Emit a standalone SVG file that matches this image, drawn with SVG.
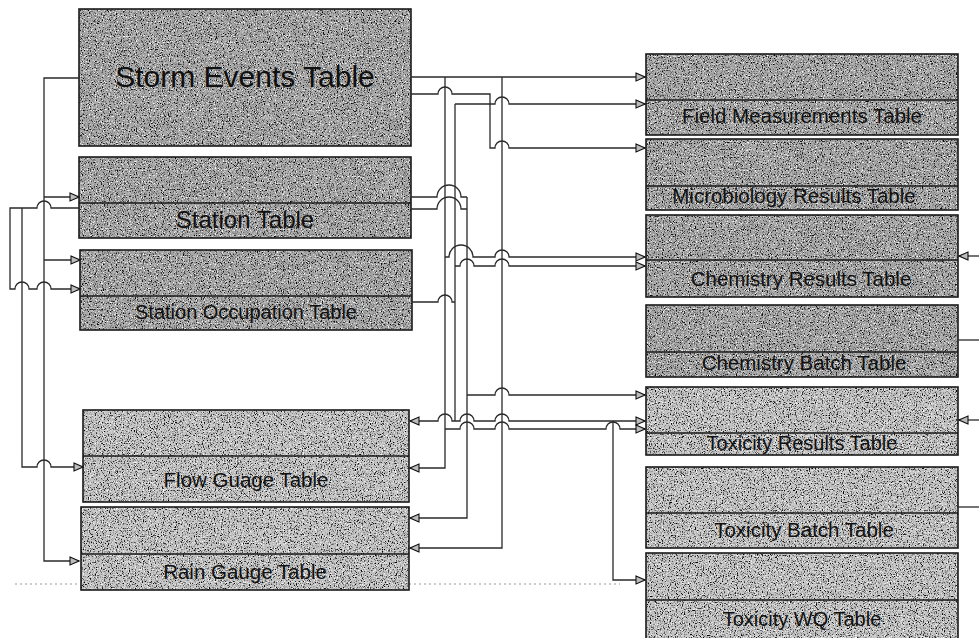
<svg xmlns="http://www.w3.org/2000/svg" width="979" height="638" viewBox="0 0 979 638">
<style>
  .bg{fill:#ffffff}
  .fd{fill:#a6a6a6;filter:url(#grain)}
  .fl{fill:#c4c4c4;filter:url(#grain)}
  .bd{fill:none;stroke:#1a1a1a;stroke-width:1.6}
  .dv{stroke:#1a1a1a;stroke-width:1.4}
  .t{font-family:"Liberation Sans",Arial,sans-serif;fill:#111;text-anchor:middle;font-size:20.5px}
  .c{fill:none;stroke:#2a2a2a;stroke-width:1.3}
  .ca{fill:none;stroke:#2a2a2a;stroke-width:1.3;marker-end:url(#arr)}
  .art{fill:none;stroke:#999;stroke-width:1;stroke-dasharray:2 3}
</style>
<defs>
  <filter id="grain" x="0" y="0" width="1" height="1" color-interpolation-filters="sRGB">
    <feTurbulence type="fractalNoise" baseFrequency="0.85" numOctaves="2" seed="4" result="n"/>
    <feColorMatrix in="n" type="matrix" values="0 0 0 0 0  0 0 0 0 0  0 0 0 0 0  4.2 0 0 0 -2.17" result="blk"/>
    <feColorMatrix in="n" type="matrix" values="0 0 0 0 1  0 0 0 0 1  0 0 0 0 1  0 -4.2 0 0 1.89" result="wht"/>
    <feMerge><feMergeNode in="SourceGraphic"/><feMergeNode in="blk"/><feMergeNode in="wht"/></feMerge>
  </filter>
  <marker id="arr" markerWidth="11" markerHeight="10" refX="10" refY="5" orient="auto" markerUnits="userSpaceOnUse">
    <path d="M1,1 L10,5 L1,9 Z" fill="#bdbdbd" stroke="#111" stroke-width="1.1"/>
  </marker>
</defs>
<rect class="bg" x="0" y="0" width="979" height="638"/>

<!-- scan artifact dotted line -->
<path class="art" d="M15,584 H80 M409,584 H620"/>

<g id="storm-events">
  <rect class="fd" x="79" y="9" width="332" height="137"/>
  <rect class="bd" x="79" y="9" width="332" height="137"/>
  <text class="t" x="245" y="87" style="font-size:30px">Storm Events Table</text>
</g>
<g id="station">
  <rect class="fd" x="79" y="157" width="332" height="81"/>
  <rect class="bd" x="79" y="157" width="332" height="81"/>
  <line class="dv" x1="79" y1="203" x2="411" y2="203"/>
  <text class="t" x="245" y="228" style="font-size:24px">Station Table</text>
</g>
<g id="station-occupation">
  <rect class="fd" x="80" y="250" width="332" height="80"/>
  <rect class="bd" x="80" y="250" width="332" height="80"/>
  <line class="dv" x1="80" y1="296" x2="412" y2="296"/>
  <text class="t" x="246" y="319" style="font-size:20px">Station Occupation Table</text>
</g>
<g id="flow-guage">
  <rect class="fl" x="83" y="410" width="326" height="92"/>
  <rect class="bd" x="83" y="410" width="326" height="92"/>
  <line class="dv" x1="83" y1="456" x2="409" y2="456"/>
  <text class="t" x="246" y="487">Flow Guage Table</text>
</g>
<g id="rain-gauge">
  <rect class="fl" x="81" y="507" width="328" height="83"/>
  <rect class="bd" x="81" y="507" width="328" height="83"/>
  <line class="dv" x1="81" y1="554" x2="409" y2="554"/>
  <text class="t" x="245" y="579">Rain Gauge Table</text>
</g>
<g id="field-measurements">
  <rect class="fd" x="646" y="54" width="312" height="81"/>
  <rect class="bd" x="646" y="54" width="312" height="81"/>
  <line class="dv" x1="646" y1="100" x2="958" y2="100"/>
  <text class="t" x="802" y="123">Field Measurements Table</text>
</g>
<g id="microbiology-results">
  <rect class="fd" x="646" y="139" width="312" height="71"/>
  <rect class="bd" x="646" y="139" width="312" height="71"/>
  <line class="dv" x1="646" y1="186" x2="958" y2="186"/>
  <text class="t" x="794" y="203">Microbiology Results Table</text>
</g>
<g id="chemistry-results">
  <rect class="fd" x="646" y="215" width="312" height="82"/>
  <rect class="bd" x="646" y="215" width="312" height="82"/>
  <line class="dv" x1="646" y1="260" x2="958" y2="260"/>
  <text class="t" x="801" y="286">Chemistry Results Table</text>
</g>
<g id="chemistry-batch">
  <rect class="fd" x="646" y="305" width="312" height="72"/>
  <rect class="bd" x="646" y="305" width="312" height="72"/>
  <line class="dv" x1="646" y1="352" x2="958" y2="352"/>
  <text class="t" x="804" y="370">Chemistry Batch Table</text>
</g>
<g id="toxicity-results">
  <rect class="fl" x="646" y="387" width="312" height="68"/>
  <rect class="bd" x="646" y="387" width="312" height="68"/>
  <line class="dv" x1="646" y1="433" x2="958" y2="433"/>
  <text class="t" x="802" y="450" style="font-size:20px">Toxicity Results Table</text>
</g>
<g id="toxicity-batch">
  <rect class="fl" x="646" y="467" width="312" height="81"/>
  <rect class="bd" x="646" y="467" width="312" height="81"/>
  <line class="dv" x1="646" y1="513" x2="958" y2="513"/>
  <text class="t" x="804" y="537">Toxicity Batch Table</text>
</g>
<g id="toxicity-wq">
  <rect class="fl" x="646" y="553" width="312" height="90"/>
  <rect class="bd" x="646" y="553" width="312" height="90"/>
  <line class="dv" x1="646" y1="600" x2="958" y2="600"/>
  <text class="t" x="802" y="626" style="font-size:20px">Toxicity WQ Table</text>
</g>

<g id="connectors">
  <!-- left side -->
  <path class="ca" d="M79,78 H44 V561 H79"/>
  <path class="ca" d="M44,197 H79"/>
  <path class="ca" d="M44,260 H80"/>
  <path class="ca" d="M79,208 H51 a7,7 0 0 0 -14,0 H10 V289 H15 a7,7 0 0 1 14,0 H37 a7,7 0 0 1 14,0 H80"/>
  <path class="ca" d="M22,208 V467 H37 a7,7 0 0 1 14,0 H83"/>

  <!-- storm events to right -->
  <path class="ca" d="M411,77 H645"/>
  <path class="ca" d="M445,77 V468 H410"/>
  <path class="ca" d="M502,77 V548 H410"/>
  <path class="ca" d="M411,94 H438 a7,7 0 0 1 14,0 H490 V104 H495 a7,7 0 0 1 14,0 H645"/>
  <path class="ca" d="M490,104 V148 H495 a7,7 0 0 1 14,0 H645"/>
  <path class="c" d="M455,104 H490"/>
  <path class="c" d="M455,104 V421"/>

  <!-- station to middle -->
  <path class="c" d="M411,197 H437 a12,12 0 0 1 24,0 H467"/>
  <path class="c" d="M411,209 H437 a12,12 0 0 1 24,0 H467"/>
  <path class="ca" d="M467,197 V518 H410"/>
  <path class="c" d="M412,302 H438 a7,7 0 0 1 14,0 H455"/>

  <!-- to chemistry results -->
  <path class="ca" d="M445,257 H449 a12,12 0 0 1 24,0 H495 a7,7 0 0 1 14,0 H645"/>
  <path class="ca" d="M455,266 H460 a7,7 0 0 1 14,0 H495 a7,7 0 0 1 14,0 H645"/>

  <!-- to toxicity results / flow guage -->
  <path class="ca" d="M467,395 H495 a7,7 0 0 1 14,0 H645"/>
  <path class="ca" d="M455,421 H452 a7,7 0 0 0 -14,0 H410"/>
  <path class="ca" d="M455,421 H460 a7,7 0 0 1 14,0 H495 a7,7 0 0 1 14,0 H645"/>
  <path class="ca" d="M445,429 H460 a7,7 0 0 1 14,0 H495 a7,7 0 0 1 14,0 H606 a7,7 0 0 1 14,0 H645"/>
  <path class="ca" d="M613,421 V580 H645"/>

  <!-- right edge -->
  <path class="ca" d="M979,256 H959"/>
  <path class="c" d="M958,340 H979"/>
  <path class="ca" d="M979,420 H959"/>
  <path class="c" d="M958,507 H979"/>
</g>
</svg>
